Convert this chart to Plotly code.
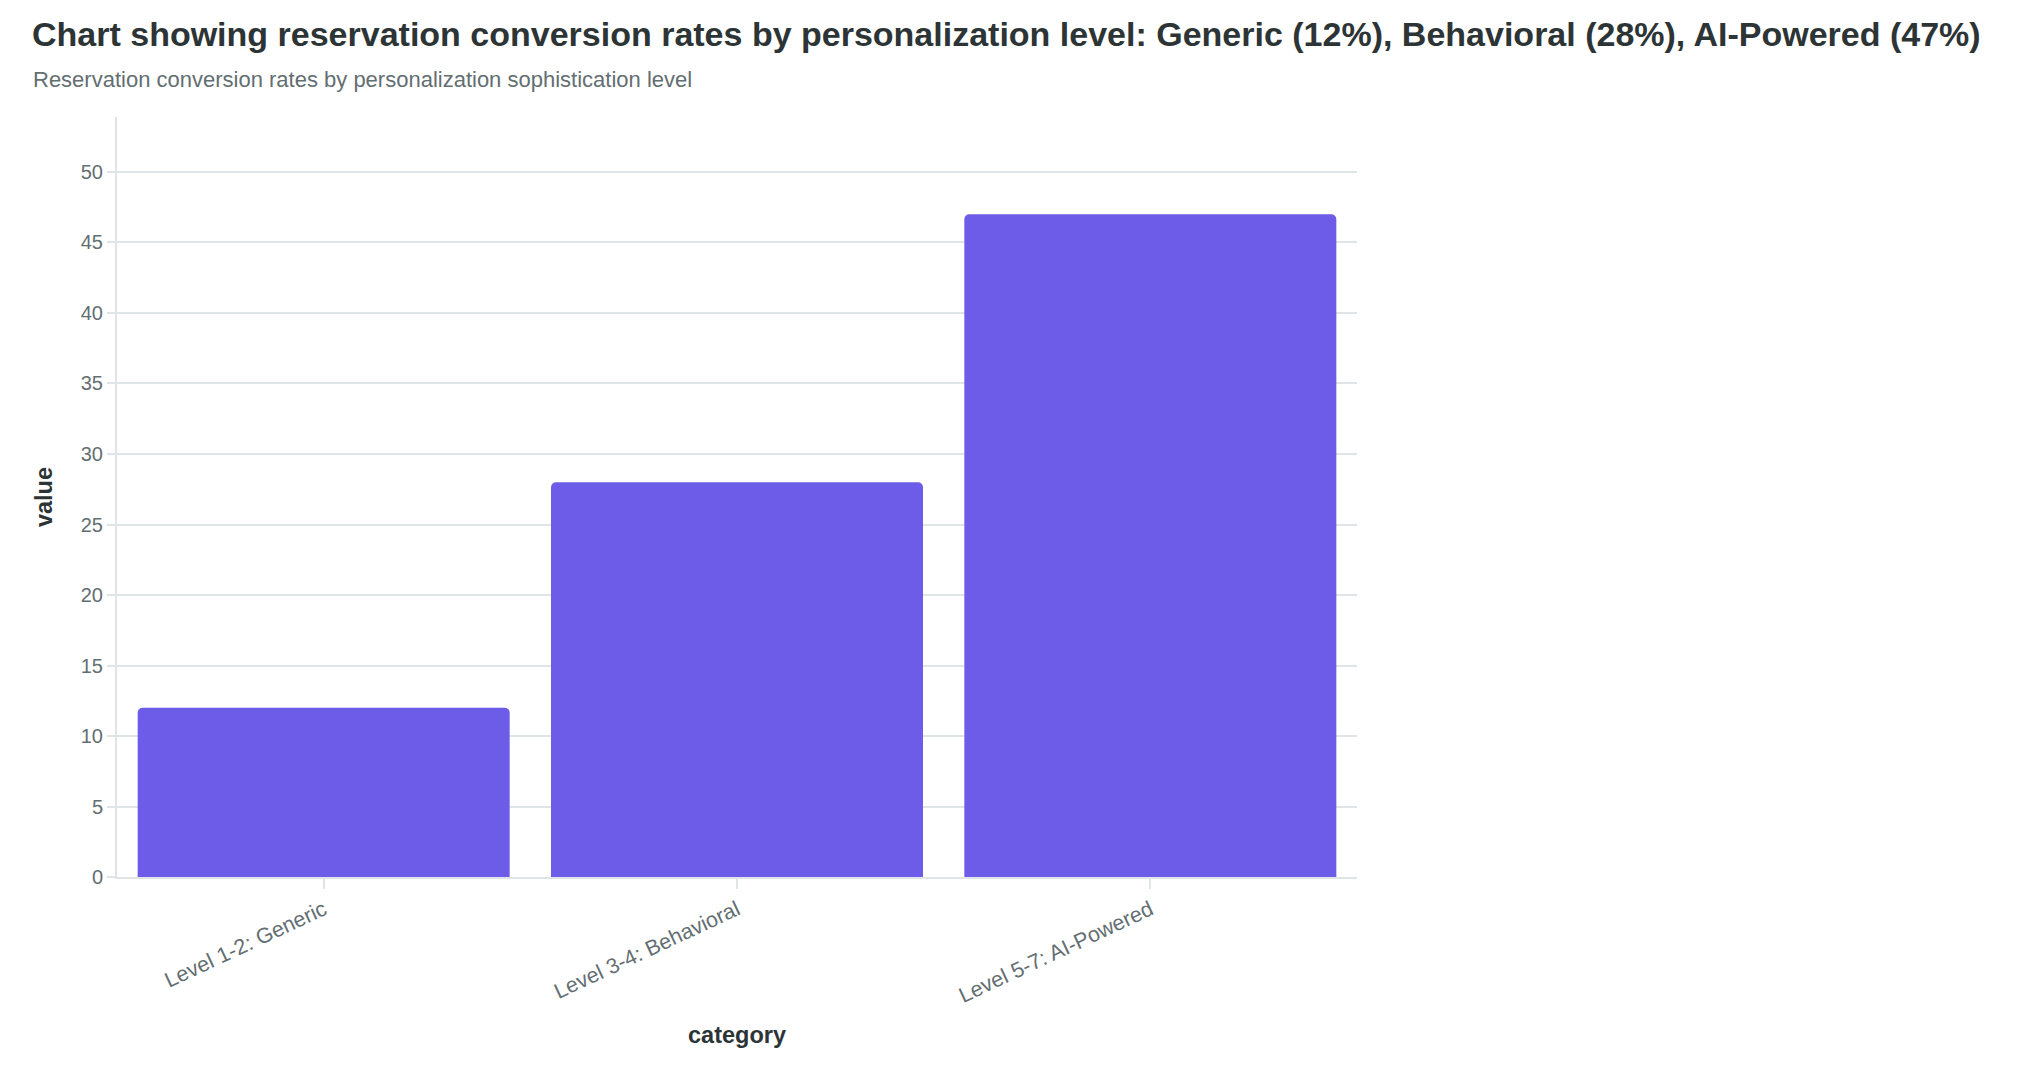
import plotly.graph_objects as go

CATEGORIES = ["Level 1-2: Generic", "Level 3-4: Behavioral", "Level 5-7: AI-Powered"]
VALUES = [12, 28, 47]
Y_TICKS = [0, 5, 10, 15, 20, 25, 30, 35, 40, 45, 50]

TITLE = ("Chart showing reservation conversion rates by personalization level: "
         "Generic (12%), Behavioral (28%), AI-Powered (47%)")
SUBTITLE = "Reservation conversion rates by personalization sophistication level"

W, H = 2032, 1074
L, R, T, B = 117, 675, 117, 197
BAR = "#6c5ce7"
DARK, GREY, GRID = "#2d3436", "#636e72", "#dfe4e6"
FONT = "Liberation Sans, Arial, sans-serif"

fig = go.Figure(go.Bar(
    x=CATEGORIES, y=VALUES,
    marker=dict(color=BAR, cornerradius=5, line=dict(width=0)),
    hovertemplate="%{x}: %{y}%<extra></extra>",
))

pw, ph = W - L - R, H - T - B
fig.update_layout(
    width=W, height=H, autosize=False,
    paper_bgcolor="white", plot_bgcolor="white",
    margin=dict(l=L, r=R, t=T, b=B, pad=0),
    bargap=0.1, showlegend=False,
    font=dict(family=FONT, size=20, color=GREY),
    title=dict(text=f"<b>{TITLE}</b>", x=32 / W, xanchor="left", xref="container",
               y=1 - 22 / H, yanchor="top", yref="container",
               font=dict(size=34, color=DARK, family=FONT)),
    annotations=[dict(text=SUBTITLE, xref="paper", yref="paper",
                      x=(30.5 - L) / pw, y=1 + (T - 80) / ph, xanchor="left", yanchor="middle",
                      showarrow=False, font=dict(size=22, color=GREY, family=FONT))],
)
fig.update_xaxes(
    showline=True, linecolor=GRID, linewidth=2, showgrid=False,
    ticks="outside", ticklen=10, tickcolor=GRID, tickwidth=2,
    tickangle=-25, tickfont=dict(size=21.5, color=GREY),
    title=dict(text="<b>category</b>", font=dict(size=23.5, color=DARK), standoff=20),
)
fig.update_yaxes(
    range=[0, 53.9], tickvals=Y_TICKS, showline=True, linecolor=GRID, linewidth=2,
    showgrid=True, gridcolor=GRID, gridwidth=1.5, zeroline=False,
    ticks="outside", ticklen=8, tickcolor=GRID, tickwidth=2,
    tickfont=dict(size=20, color=GREY),
    title=dict(text="<b>value</b>", font=dict(size=23.5, color=DARK), standoff=22),
)

# drop the browser's default 8px body margin so the figure sits at the page origin
fig.write_html("out.html", config={"displayModeBar": False},
               post_script="document.body.style.margin='0';")
